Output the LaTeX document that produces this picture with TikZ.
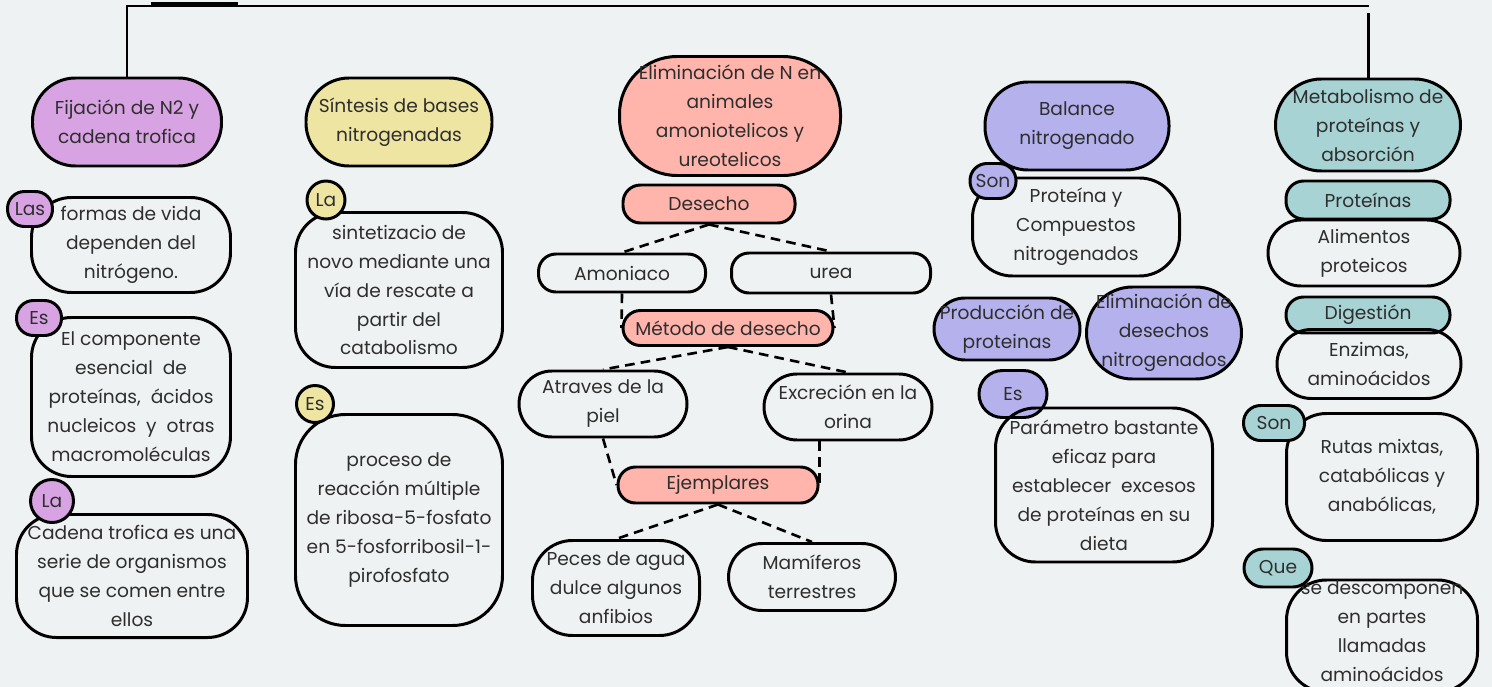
\documentclass[tikz,border=0pt]{standalone}
\usepackage{fontspec}
\setmainfont{Poppins}
\usepackage{tikz}
\usetikzlibrary{calc}

\definecolor{bgc}{HTML}{EFF2F3}
\definecolor{lila}{HTML}{D8A3E2}
\definecolor{amar}{HTML}{EFE5A2}
\definecolor{salm}{HTML}{FFB4AC}
\definecolor{lav}{HTML}{B4B1EC}
\definecolor{tea}{HTML}{A7D3D4}
\definecolor{txt}{HTML}{2E2E2E}

\begin{document}
\begin{tikzpicture}[
    every node/.style={draw, line width=1.7pt, align=center, text=txt, inner sep=0pt,
        font=\fontsize{10.6}{16.5}\selectfont},
    tit/.style={rounded corners=0.86cm},
    pill/.style={rounded corners=0.35cm},
    caja/.style={rounded corners=0.8cm},
    tag/.style={rounded corners=0.34cm},
    dashln/.style={dash pattern=on 5.5pt off 3.5pt, line width=1.5pt},
    frame/.style={line width=1.7pt}]
    \fill[bgc] (0,0) rectangle (29.84,-13.74);
    \useasboundingbox (0,0) rectangle (29.84,-13.74);
    % columna 1
    \node[tit, fill=lila, minimum width=3.78cm, minimum height=1.76cm] (fij) at (2.54,-2.44) {Fijación de N2 y\\cadena trofica};
    \node[caja, minimum width=3.98cm, minimum height=1.90cm] (formas) at (2.62,-4.90) {formas de vida\\dependen del\\nitrógeno.};
    \node[tag, fill=lila, minimum width=0.90cm, minimum height=0.70cm] (las) at (0.60,-4.18) {Las};
    \node[caja, minimum width=3.98cm, minimum height=3.18cm] (compo) at (2.62,-7.94) {El componente\\esencial \ de\\proteínas, \ ácidos\\nucleicos \ y \ otras\\macromoléculas};
    \node[tag, fill=lila, minimum width=0.90cm, minimum height=0.70cm] (es1) at (0.78,-6.36) {Es};
    \node[caja, minimum width=4.62cm, minimum height=2.46cm] (cadena) at (2.64,-11.52) {Cadena trofica es una\\serie de organismos\\que se comen entre\\ellos};
    \node[circle, fill=lila, minimum size=0.86cm] (la1) at (1.04,-10.02) {La};
    % columna 2
    \node[tit, fill=amar, minimum width=3.72cm, minimum height=1.76cm] (sin) at (7.98,-2.44) {Síntesis de bases\\nitrogenadas};
    \node[caja, minimum width=4.14cm, minimum height=3.10cm] (sintet) at (7.98,-5.80) {sintetizacio de\\novo mediante una\\vía de rescate a\\partir del\\catabolismo};
    \node[circle, fill=amar, minimum size=0.76cm] (la2) at (6.52,-4.00) {La};
    \node[caja, rounded corners=1cm, minimum width=4.14cm, minimum height=4.22cm] (proceso) at (7.98,-10.40) {proceso de\\reacción múltiple\\de ribosa-5-fosfato\\en 5-fosforribosil-1-\\pirofosfato};
    \node[circle, fill=amar, minimum size=0.74cm] (es2) at (6.30,-8.08) {Es};
    % columna 3
    \node[tit, rounded corners=1.15cm, fill=salm, minimum width=4.42cm, minimum height=2.38cm] (elim) at (14.60,-2.32) {Eliminación de N en\\animales\\amoniotelicos y\\ureotelicos};
    \node[pill, fill=salm, minimum width=3.44cm, minimum height=0.76cm] (desecho) at (14.18,-4.08) {Desecho};
    \node[pill, minimum width=3.34cm, minimum height=0.76cm] (amon) at (12.44,-5.46) {Amoniaco};
    \node[pill, minimum width=3.98cm, minimum height=0.80cm] (urea) at (16.62,-5.46) {urea};
    \node[pill, fill=salm, minimum width=4.20cm, minimum height=0.70cm] (metodo) at (14.56,-6.56) {Método de desecho};
    \node[tit, rounded corners=0.66cm, minimum width=3.36cm, minimum height=1.32cm] (piel) at (12.06,-8.08) {Atraves de la\\piel};
    \node[tit, rounded corners=0.66cm, minimum width=3.36cm, minimum height=1.32cm] (orina) at (16.96,-8.14) {Excreción en la\\orina};
    \node[pill, fill=salm, minimum width=4.00cm, minimum height=0.72cm] (ejem) at (14.36,-9.70) {Ejemplares};
    \node[caja, minimum width=3.34cm, minimum height=1.90cm] (peces) at (12.32,-11.76) {Peces de agua\\dulce algunos\\anfibios};
    \node[tit, rounded corners=0.67cm, minimum width=3.34cm, minimum height=1.34cm] (mami) at (16.24,-11.54) {Mamíferos\\terrestres};
    \draw[dashln] (desecho.south) -- (amon.north);
    \draw[dashln] (desecho.south) -- (urea.north);
    \draw[dashln] (amon.south) -- (metodo.west);
    \draw[dashln] (urea.south) -- (metodo.east);
    \draw[dashln] (metodo.south) -- (piel.north);
    \draw[dashln] (metodo.south) -- (orina.north);
    \draw[dashln] (piel.south) -- (ejem.west);
    \draw[dashln] (orina.south -| ejem.east) -- (ejem.east);
    \draw[dashln] (ejem.south) -- (peces.north);
    \draw[dashln] (ejem.south) -- (mami.north);
    % columna 4
    \node[tit, fill=lav, minimum width=3.68cm, minimum height=1.76cm] (bal) at (21.54,-2.52) {Balance\\nitrogenado};
    \node[caja, minimum width=4.14cm, minimum height=1.96cm] (prot) at (21.52,-4.54) {Proteína y\\Compuestos\\nitrogenados};
    \node[tag, fill=lav, minimum width=0.92cm, minimum height=0.70cm] (son1) at (19.86,-3.62) {Son};
    \node[tit, rounded corners=0.62cm, fill=lav, minimum width=2.92cm, minimum height=1.24cm] (prod) at (20.14,-6.58) {Producción de\\proteinas};
    \node[tit, rounded corners=0.92cm, fill=lav, minimum width=3.10cm, minimum height=1.84cm] (elid) at (23.28,-6.66) {Eliminación de\\desechos\\nitrogenados};
    \node[tag, rounded corners=0.47cm, fill=lav, minimum width=1.36cm, minimum height=0.94cm] (es3) at (20.26,-7.88) {Es};
    \node[caja, minimum width=4.34cm, minimum height=3.08cm] (param) at (22.08,-9.70) {Parámetro bastante\\eficaz para\\establecer \ excesos\\de proteínas en su\\dieta};
    % columna 5
    \node[tit, rounded corners=0.92cm, fill=tea, minimum width=3.70cm, minimum height=1.84cm] (meta) at (27.36,-2.50) {Metabolismo de\\proteínas y\\absorción};
    \node[pill, fill=tea, minimum width=3.28cm, minimum height=0.76cm] (proteinas) at (27.36,-4.00) {Proteínas};
    \node[tit, rounded corners=0.66cm, minimum width=3.84cm, minimum height=1.32cm] (alim) at (27.28,-5.06) {Alimentos\\proteicos};
    \node[pill, fill=tea, minimum width=3.28cm, minimum height=0.72cm] (dig) at (27.36,-6.30) {Digestión};
    \node[tit, rounded corners=0.69cm, minimum width=3.68cm, minimum height=1.38cm] (enz) at (27.38,-7.28) {Enzimas,\\aminoácidos};
    \node[caja, minimum width=3.82cm, minimum height=2.54cm] (rutas) at (27.64,-9.54) {Rutas mixtas,\\catabólicas y\\anabólicas,};
    \node[tag, fill=tea, minimum width=1.22cm, minimum height=0.70cm] (son2) at (25.48,-8.46) {Son};
    \node[caja, minimum width=3.82cm, minimum height=2.24cm, text depth=0.18cm] (desc) at (27.64,-12.72) {se descomponen\\en partes\\llamadas\\aminoácidos};
    \node[tag, rounded corners=0.38cm, fill=tea, minimum width=1.36cm, minimum height=0.76cm] (que) at (25.56,-11.36) {Que};
    % marco superior
    \coordinate (tr) at (27.38,-0.12);
    \coordinate (trd) at (27.36,-0.26);
    \coordinate (ta) at (3.02,-0.09);
    \coordinate (tb) at (4.76,-0.09);
    \draw[frame] (fij.north) |- (tr);
    \draw[frame] (trd) -- (meta.north);
    \draw[line width=2.4pt] (ta) -- (tb);
\end{tikzpicture}
\end{document}
